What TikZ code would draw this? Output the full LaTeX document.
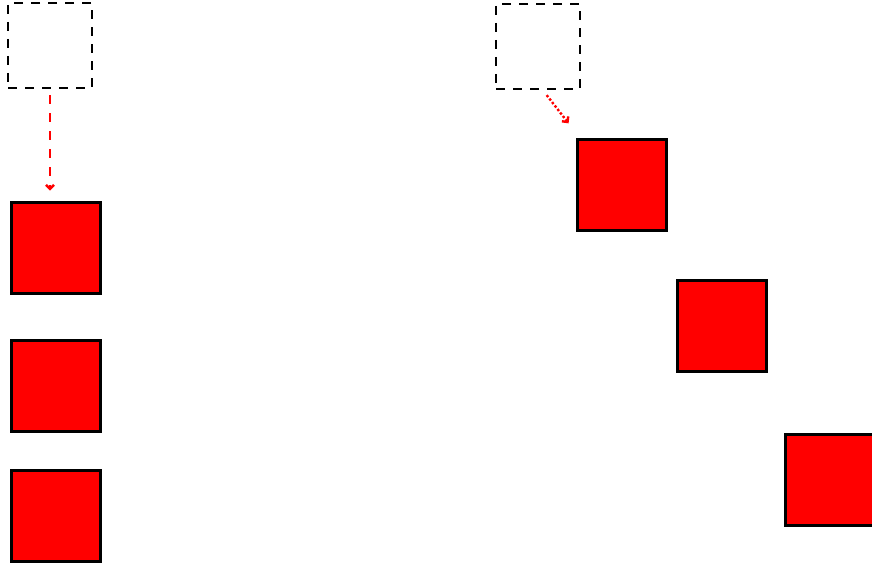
\documentclass[tikz,border=0pt]{standalone}
\usepackage{xcolor}
\usepackage{tikz}
\usetikzlibrary{arrows.meta,positioning,calc}

\begin{document}
\begin{tikzpicture}[x=1pt,y=-1pt,>={Straight Barb[length=4pt,width=8pt]},
    ghost/.style={draw,dashed,dash pattern=on 9pt off 8pt,line width=2.8pt,minimum width=84pt,minimum height=85pt,inner sep=0pt},
    block/.style={draw,fill=red,line width=3pt,minimum width=89pt,minimum height=91pt,inner sep=0pt}]
    \clip (0,0) rectangle (872,567);
    \useasboundingbox (0,0) rectangle (872,567);

    % 左列：原位置与下落后的方块
    \node[ghost] (ghostL) at (50,45.5) {};
    \node[block] (sqL1) at (55.5,247.5) {};
    \node[block] (sqL2) at (55.5,385.5) {};
    \node[block] (sqL3) at (55.5,515.5) {};

    % 右列：斜向排列
    \node[ghost] (ghostR) at (538,46.5) {};
    \node[block] (sqR1) at (622,184.5) {};
    \node[block] (sqR2) at (721.5,326) {};
    \node[block] (sqR3) at (830,479.5) {};

    % 移动方向箭头
    \draw[->,red,line width=2.4pt,dash pattern=on 9pt off 9pt,shorten <=6pt,shorten >=10pt] (ghostL.south) -- (ghostL.south |- sqL1.north);
    \draw[->,red,line width=2.4pt,dotted,shorten <=6pt,shorten >=4pt] ([xshift=5pt]ghostR.south) -- ($(sqR1.north west)+(-5,-11)$);
  \end{tikzpicture}
\end{document}
